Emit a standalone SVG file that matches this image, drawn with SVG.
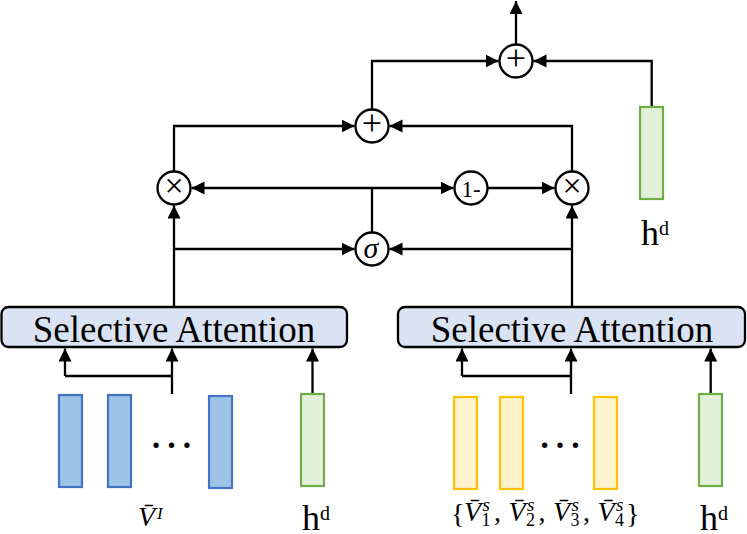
<svg xmlns="http://www.w3.org/2000/svg" width="747" height="534" viewBox="0 0 747 534">
<defs>
<marker id="ah" markerUnits="userSpaceOnUse" markerWidth="14" markerHeight="14" refX="13" refY="6.5" orient="auto"><path d="M0,0 L13,6.5 L0,13 z" fill="#000"/></marker>
<style>
.ln{fill:none;stroke:#000;stroke-width:2.3}
.arr{marker-end:url(#ah)}
.op{fill:#fff;stroke:#000;stroke-width:2.3}
.sa{fill:#DAE3F3;stroke:#000;stroke-width:2.3}
.blue{fill:#9DC3E6;stroke:#4472C4;stroke-width:2.2}
.green{fill:#E2F0D9;stroke:#70AD47;stroke-width:2.2}
.yel{fill:#FFF2CC;stroke:#FFC000;stroke-width:2.2}
.t{font-family:"Liberation Serif","Times New Roman",serif;fill:#000}
.it{font-style:italic}
</style>
</defs>
<g id="connectors">
<path class="ln arr" d="M174,307 V205.5"/>
<path class="ln arr" d="M174,249 H354.5"/>
<path class="ln arr" d="M572,307 V205.5"/>
<path class="ln arr" d="M572,249 H389.5"/>
<path class="ln" d="M372,232 V188"/>
<path class="ln arr" d="M372,188 H191.5"/>
<path class="ln arr" d="M372,188 H453.5"/>
<path class="ln arr" d="M488,188 H554.5"/>
<path class="ln arr" d="M174,171 V126 H354.5"/>
<path class="ln arr" d="M572,171 V126 H389.5"/>
<path class="ln arr" d="M372,109 V61 H498.5"/>
<path class="ln arr" d="M651.7,107 V61 H533.5"/>
<path class="ln arr" d="M516,44 V1"/>
<path class="ln arr" d="M65,376 V348.5"/>
<path class="ln" d="M65,376 H172"/>
<path class="ln arr" d="M172,394 V348.5"/>
<path class="ln arr" d="M312.5,394 V348.5"/>
<path class="ln arr" d="M462,376 V348.5"/>
<path class="ln" d="M462,376 H571"/>
<path class="ln arr" d="M571,394 V348.5"/>
<path class="ln arr" d="M710.7,394 V348.5"/>
</g>
<g id="mulL"><circle class="op" cx="174" cy="188" r="16.5"/><text class="t" x="174" y="196.5" font-size="34" text-anchor="middle">×</text></g>
<g id="addM"><circle class="op" cx="372" cy="126" r="16.5"/><text class="t" x="372" y="135" font-size="36" text-anchor="middle">+</text></g>
<g id="sigma"><circle class="op" cx="372" cy="249" r="16.5"/><text class="t it" x="371" y="257.5" font-size="30" text-anchor="middle">σ</text></g>
<g id="oneminus"><circle class="op" cx="471" cy="188" r="16.5"/><text class="t" x="471" y="196.5" font-size="23" text-anchor="middle">1-</text></g>
<g id="mulR"><circle class="op" cx="572" cy="188" r="16.5"/><text class="t" x="572" y="196.5" font-size="34" text-anchor="middle">×</text></g>
<g id="addT"><circle class="op" cx="516" cy="61" r="16.5"/><text class="t" x="516" y="70" font-size="36" text-anchor="middle">+</text></g>
<g id="hdTop"><rect class="green" x="640" y="107" width="23" height="92"/><text class="t" x="641" y="245" font-size="36">h<tspan font-size="20" dy="-10">d</tspan></text></g>
<g id="saL"><rect class="sa" x="1.5" y="307" width="345.5" height="40" rx="7"/><text class="t" x="174" y="341.5" font-size="37" text-anchor="middle">Selective Attention</text></g>
<g id="saR"><rect class="sa" x="398" y="307" width="347" height="40" rx="7"/><text class="t" x="572" y="341.5" font-size="37" text-anchor="middle">Selective Attention</text></g>
<g id="visual">
<rect class="blue" x="59" y="395" width="23" height="92"/>
<rect class="blue" x="108" y="395" width="23" height="92"/>
<rect class="blue" x="209" y="396" width="23" height="92"/>
<text class="t" x="171.5" y="448" font-size="46" text-anchor="middle">…</text>
<text class="t it" x="138" y="526" font-size="28">V̄<tspan x="157" y="519" font-size="17">I</tspan></text>
</g>
<g id="hdL"><rect class="green" x="301" y="394" width="23" height="92"/><text class="t" x="302" y="530" font-size="36">h<tspan font-size="20" dy="-10">d</tspan></text></g>
<g id="spatial">
<rect class="yel" x="454" y="397" width="23" height="92"/>
<rect class="yel" x="500" y="397" width="23" height="92"/>
<rect class="yel" x="594" y="397" width="23" height="92"/>
<text class="t" x="560" y="448" font-size="46" text-anchor="middle">…</text>
<text class="t" font-size="28"><tspan x="451" y="523">{</tspan><tspan x="464" y="521" class="it">V̄</tspan><tspan x="482.5" y="511" font-size="19" class="it">s</tspan><tspan x="481.5" y="526" font-size="18">1</tspan><tspan x="494" y="521">,</tspan><tspan x="508.5" y="521" class="it">V̄</tspan><tspan x="527" y="511" font-size="19" class="it">s</tspan><tspan x="526" y="526" font-size="18">2</tspan><tspan x="538.5" y="521">,</tspan><tspan x="553" y="521" class="it">V̄</tspan><tspan x="571.5" y="511" font-size="19" class="it">s</tspan><tspan x="570.5" y="526" font-size="18">3</tspan><tspan x="583" y="521">,</tspan><tspan x="597.5" y="521" class="it">V̄</tspan><tspan x="616" y="511" font-size="19" class="it">s</tspan><tspan x="615" y="526" font-size="18">4</tspan><tspan x="626" y="523">}</tspan></text>
</g>
<g id="hdR"><rect class="green" x="699" y="394" width="23" height="92"/><text class="t" x="700" y="530" font-size="36">h<tspan font-size="20" dy="-10">d</tspan></text></g>
</svg>
